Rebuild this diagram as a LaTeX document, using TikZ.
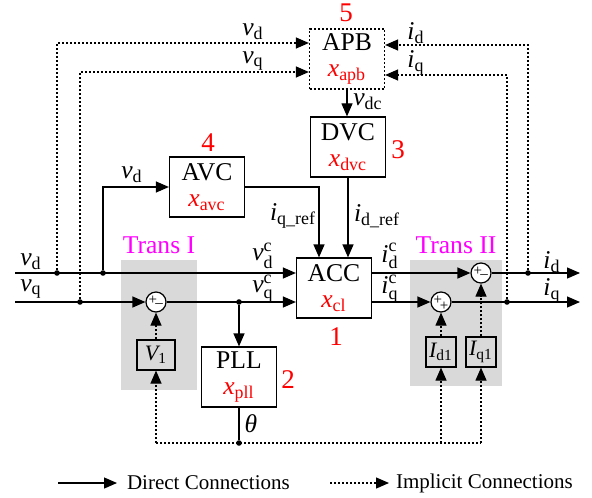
\documentclass[tikz,border=0pt]{standalone}
\usepackage{fontspec}
\setmainfont{Liberation Serif}
\usepackage{amsmath}
\usetikzlibrary{arrows.meta}
\definecolor{transpink}{RGB}{255,0,255}
\newcommand{\sig}[2]{$\text{\itshape #1}_{\text{#2}}$}
\newcommand{\sigc}[2]{$\text{\itshape #1}^{\text{c}}_{\text{#2}}$}
\begin{document}
\begin{tikzpicture}[x=0.5pt,y=-0.5pt,
  >={Triangle[length=6.5pt,width=5.5pt]},
  every node/.style={font=\fontsize{12.8}{13}\selectfont},
  blk/.style={draw,line width=0.6pt,minimum width=37.5pt,minimum height=30pt,align=center,inner sep=0pt},
  sblk/.style={draw,line width=0.6pt,minimum width=15pt,minimum height=15pt,inner sep=0pt,font=\fontsize{11}{12}\selectfont},
  sum/.style={draw,circle,fill=white,line width=0.6pt,minimum size=10pt,inner sep=0pt},
  sgn/.style={inner sep=0pt,font=\fontsize{7.5}{7.5}\selectfont},
  lbl/.style={inner sep=0.3pt},
  direct/.style={->,line width=0.6pt},
  implicit/.style={->,line width=0.6pt,dash pattern=on 1pt off 1pt},
  dot/.style={circle,fill,inner sep=0pt,minimum size=2.8pt},
  num/.style={text=red,font=\fontsize{13.5}{14}\selectfont},
  trans/.style={text=transpink},
  transbg/.style={fill=gray!30}]
\useasboundingbox (0,0) rectangle (592,497);
% grey areas
\fill[transbg] (121,260) rectangle (197,390);
\fill[transbg] (410,260) rectangle (502,386);
\node[trans] (tr1) at (159,245) {Trans I};
\node[trans] (tr2) at (456,245) {Trans II};
% blocks
\node[blk,dash pattern=on 1pt off 1pt] (APB) at (347,59) {APB\\ \textcolor{red}{\sig{x}{apb}}};
\node[blk] (DVC) at (348,147) {DVC\\ \textcolor{red}{\sig{x}{dvc}}};
\node[blk] (AVC) at (207,187) {AVC\\ \textcolor{red}{\sig{x}{avc}}};
\node[blk] (ACC) at (334,288) {ACC\\ \textcolor{red}{\sig{x}{cl}}};
\node[blk] (PLL) at (239,377) {PLL\\ \textcolor{red}{\sig{x}{pll}}};
\node[sblk,minimum width=19pt] (V1) at (156,355) {\sig{V}{1}};
\node[sblk] (Id1) at (441,352) {\sig{I}{d1}};
\node[sblk] (Iq1) at (481,352) {\sig{I}{q1}};
% summing points
\node[sum] (s1) at (156,302) {};
\node[sgn] (s1p) at ([shift={(-1.6pt,0.8pt)}]s1.center) {+};
\node[sgn] (s1m) at ([shift={(1.6pt,-1.8pt)}]s1.center) {–};
\node[sum] (s2) at (441,302) {};
\node[sgn] (s2p) at ([shift={(-1.6pt,0.8pt)}]s2.center) {+};
\node[sgn] (s2b) at ([shift={(1.6pt,-2.2pt)}]s2.center) {+};
\node[sum] (s3) at (481,273) {};
\node[sgn] (s3p) at ([shift={(-1.6pt,0.8pt)}]s3.center) {+};
\node[sgn] (s3m) at ([shift={(1.6pt,-1.8pt)}]s3.center) {–};
% junctions
\node[dot] (jd1) at (57,273) {};
\node[dot] (jd2) at (103,273) {};
\node[dot] (jq1) at (80,302) {};
\node[dot] (jq2) at (239,302) {};
\node[dot] (jid) at (528,273) {};
\node[dot] (jiq) at (507,302) {};
\node[dot] (th) at (239,443) {};
\coordinate (vdin) at (15,273);
\coordinate (vqin) at (15,302);
\coordinate (idout) at (580,273);
\coordinate (iqout) at (580,302);
% direct connections
\draw[direct] (vdin) -- (ACC.west |- vdin);
\draw[direct] (vqin) -- (s1);
\draw[direct] (s1) -- (ACC.west |- s1);
\draw[direct] (jq2) -- (PLL);
\draw[line width=0.6pt] (PLL) -- (th);
\draw[direct] (jd2) |- (AVC);
\draw[direct] (AVC) -| ([xshift=-7.5pt]ACC.north);
\draw[direct] (DVC) -- (DVC |- ACC.north);
\draw[direct] (APB.south) -- (APB.south |- DVC.north);
\draw[direct] (ACC.east |- s3) -- (s3);
\draw[direct] (ACC.east |- s2) -- (s2);
\draw[direct] (s3) -- (idout);
\draw[direct] (s2) -- (iqout);
% implicit connections
\draw[implicit] (jd1) |- ([yshift=8pt]APB.west);
\draw[implicit] (jq1) |- ([yshift=-6.5pt]APB.west);
\draw[implicit] (jid) |- ([yshift=7pt]APB.east);
\draw[implicit] (jiq) |- ([yshift=-8pt]APB.east);
\draw[implicit,-] (V1 |- th) -- (Iq1 |- th);
\draw[implicit] (V1 |- th) -- (V1);
\draw[implicit] (Id1 |- th) -- (Id1);
\draw[implicit] (Iq1 |- th) -- (Iq1);
\draw[implicit] (V1) -- (s1);
\draw[implicit] (Id1) -- (s2);
\draw[implicit] (Iq1) -- (s3);
% labels
\node[lbl] (lvd) at (31,262) {\sig{v}{d}};
\node[lbl] (lvq) at (31,289) {\sig{v}{q}};
\node[lbl] (lvdt) at (253,32) {\sig{v}{d}};
\node[lbl] (lvqt) at (253,61) {\sig{v}{q}};
\node[lbl] (lidt) at (416,33) {\sig{i}{d}};
\node[lbl] (liqt) at (416,63) {\sig{i}{q}};
\node[lbl] (lvdc) at (368,102) {\sig{v}{dc}};
\node[lbl] (lvda) at (132,175) {\sig{v}{d}};
\node[lbl] (liqr) at (293,216) {\sig{i}{q\_ref}};
\node[lbl] (lidr) at (377,216) {\sig{i}{d\_ref}};
\node[lbl] (lvdc1) at (263,256) {\sigc{v}{d}};
\node[lbl] (lvqc1) at (263,289) {\sigc{v}{q}};
\node[lbl] (lidc) at (390,256) {\sigc{i}{d}};
\node[lbl] (liqc) at (390,289) {\sigc{i}{q}};
\node[lbl] (lido) at (552,262) {\sig{i}{d}};
\node[lbl] (liqo) at (552,291) {\sig{i}{q}};
\node[lbl] (lth) at (251,424) {\itshape θ};
% numbers
\node[num] (n5) at (346,13) {5};
\node[num] (n4) at (208,143) {4};
\node[num] (n3) at (398,150) {3};
\node[num] (n2) at (288,380) {2};
\node[num] (n1) at (336,337) {1};
% legend
\coordinate (la1) at (58,483);
\coordinate (la2) at (117,483);
\coordinate (lb1) at (330,483);
\coordinate (lb2) at (389,483);
\draw[direct] (la1) -- (la2);
\draw[implicit] (lb1) -- (lb2);
\node[anchor=west,font=\fontsize{10.5}{12}\selectfont] (ldir) at (120,483) {Direct Connections};
\node[anchor=west,font=\fontsize{10.5}{12}\selectfont] (limp) at (389,483) {Implicit Connections};
\end{tikzpicture}
\end{document}
